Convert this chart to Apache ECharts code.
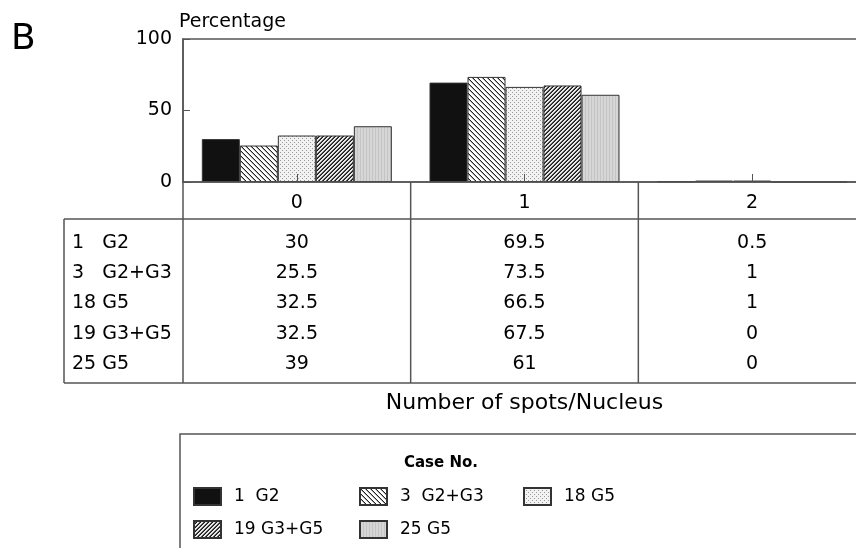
<!DOCTYPE html>
<html>
<head>
<meta charset="utf-8">
<script src="https://cdn.jsdelivr.net/npm/echarts@6/dist/echarts.min.js"></script>
<style>html,body{margin:0;padding:0;background:#fff;overflow:hidden;width:856px;height:548px}#c{width:890px;height:548px}</style>
</head>
<body>
<div id="c"></div>
<script>
// ---- data ----
const categories = ['0', '1', '2'];
const caseNames = ['1  G2', '3  G2+G3', '18 G5', '19 G3+G5', '25 G5'];
const rowLabels = ['1   G2', '3   G2+G3', '18 G5', '19 G3+G5', '25 G5'];
const case1G2 = [30, 69.5, 0.5];
const case3G2G3 = [25.5, 73.5, 1];
const case18G5 = [32.5, 66.5, 1];
const case19G3G5 = [32.5, 67.5, 0];
const case25G5 = [39, 61, 0];
const yTicks = [0, 50, 100];
const seriesValues = [case1G2, case3G2G3, case18G5, case19G3G5, case25G5];

// ---- style ----
const FONT = 'DejaVu Sans';
const TXT = '#000';
const LINE = '#555';

function pat(w, h, draw) {
  const c = document.createElement('canvas');
  c.width = w; c.height = h;
  const g = c.getContext('2d');
  draw(g, w, h);
  return { image: c, repeat: 'repeat' };
}
const fills = [
  '#111',
  pat(5, 5, (g, w, h) => { g.fillStyle = '#fff'; g.fillRect(0, 0, w, h);
    for (let i = 0; i < w; i++) { g.fillStyle = '#222'; g.fillRect(i, i, 1, 1); g.fillStyle = '#aaa'; g.fillRect(i, (i + 1) % h, 1, 1); } }),
  pat(4, 4, (g, w, h) => { g.fillStyle = '#f2f2f2'; g.fillRect(0, 0, w, h);
    g.fillStyle = '#999'; g.fillRect(0, 0, 1, 1); g.fillRect(2, 2, 1, 1); }),
  pat(4, 4, (g, w, h) => { g.fillStyle = '#e8e8e8'; g.fillRect(0, 0, w, h);
    for (let i = 0; i < w; i++) { g.fillStyle = '#1a1a1a'; g.fillRect(i, h - 1 - i, 1, 1); g.fillStyle = '#555'; g.fillRect(i, (2 * h - 2 - i) % h, 1, 1); } }),
  pat(3, 1, (g) => { g.fillStyle = '#d6d6d6'; g.fillRect(0, 0, 3, 1); g.fillStyle = '#c4c4c4'; g.fillRect(0, 0, 1, 1); })
];

const legendPos = [[193, 487], [359, 487], [523, 487], [193, 520], [359, 520]];

const chart = echarts.init(document.getElementById('c'), null, { renderer: 'canvas' });

const option = {
  animation: false,
  backgroundColor: '#fff',
  textStyle: { fontFamily: FONT, color: TXT },
  grid: { left: 183, top: 39, width: 683, height: 143, show: true, borderColor: LINE, borderWidth: 1.5, backgroundColor: 'transparent' },
  xAxis: {
    type: 'category', data: categories, z: 10,
    axisLine: { lineStyle: { color: LINE, width: 1.5 } },
    axisTick: { show: true, inside: true, alignWithLabel: true, length: 8, lineStyle: { color: LINE } },
    axisLabel: { fontSize: 19, color: TXT, margin: 12, fontFamily: FONT },
    name: 'Number of spots/Nucleus', nameLocation: 'middle', nameGap: 210,
    nameTextStyle: { fontSize: 22, color: TXT, fontFamily: FONT }
  },
  yAxis: {
    type: 'value', min: yTicks[0], max: yTicks[yTicks.length - 1], interval: yTicks[1] - yTicks[0],
    axisLine: { show: true, lineStyle: { color: LINE, width: 1.5 } },
    axisTick: { show: true, inside: true, length: 7, lineStyle: { color: LINE } },
    axisLabel: { fontSize: 19, color: TXT, margin: 11, fontFamily: FONT },
    splitLine: { show: false },
    name: 'Percentage', nameLocation: 'end', nameGap: 17,
    nameTextStyle: { fontSize: 19, color: TXT, align: 'left', verticalAlign: 'middle', padding: [0, 0, 0, -4], fontFamily: FONT }
  },
  legend: caseNames.map((n, i) => ({
    data: [n], left: legendPos[i][0], top: legendPos[i][1], padding: 0,
    itemWidth: 27, itemHeight: 17, icon: 'rect', selectedMode: false,
    textStyle: { fontSize: 17, color: TXT, fontFamily: FONT, padding: [0, 0, 0, 8] }
  })),
  series: caseNames.map((n, i) => ({
    name: n, type: 'bar', data: seriesValues[i], barWidth: 38, barGap: '0%',
    itemStyle: { color: fills[i], borderColor: '#333', borderWidth: 1 }
  }))
};
chart.setOption(option);

// ---- table & decorations, positioned from the axes ----
const centers = categories.map((c, i) => chart.convertToPixel({ xAxisIndex: 0 }, i));
const catW = centers[1] - centers[0];
const baseY = chart.convertToPixel({ yAxisIndex: 0 }, 0);
const tableTop = 219, tableBot = 383, tableLeft = 64, rightEnd = 880;
const rowY0 = 243, rowStep = 30.2;
const ls = { stroke: LINE, lineWidth: 1.5 };
const g = [];
g.push({ type: 'line', shape: { x1: tableLeft, y1: tableTop, x2: rightEnd, y2: tableTop }, style: ls });
g.push({ type: 'line', shape: { x1: tableLeft, y1: tableBot, x2: rightEnd, y2: tableBot }, style: ls });
g.push({ type: 'line', shape: { x1: tableLeft, y1: tableTop, x2: tableLeft, y2: tableBot }, style: ls });
for (let k = 0; k < categories.length; k++) {
  const bx = centers[k] - catW / 2;
  g.push({ type: 'line', shape: { x1: bx, y1: baseY, x2: bx, y2: tableBot }, style: ls });
}
rowLabels.forEach((lab, r) => {
  g.push({ type: 'text', x: 72, y: rowY0 + r * rowStep, style: { text: lab, font: '19px "DejaVu Sans"', fill: TXT, textAlign: 'left', textVerticalAlign: 'middle' } });
  seriesValues[r].forEach((v, k) => {
    g.push({ type: 'text', x: centers[k], y: rowY0 + r * rowStep, style: { text: String(v), font: '19px "DejaVu Sans"', fill: TXT, textAlign: 'center', textVerticalAlign: 'middle' } });
  });
});
g.push({ type: 'text', x: 11, y: 40, style: { text: 'B', font: '36px "DejaVu Sans"', fill: TXT, textAlign: 'left', textVerticalAlign: 'middle' } });
g.push({ type: 'rect', shape: { x: 180, y: 434, width: 720, height: 200 }, style: { stroke: LINE, lineWidth: 1.5, fill: 'none' } });
g.push({ type: 'text', x: 441, y: 463, style: { text: 'Case No.', font: 'bold 15px "DejaVu Sans"', fill: TXT, textAlign: 'center', textVerticalAlign: 'middle' } });
chart.setOption({ graphic: g });
</script>
</body>
</html>
